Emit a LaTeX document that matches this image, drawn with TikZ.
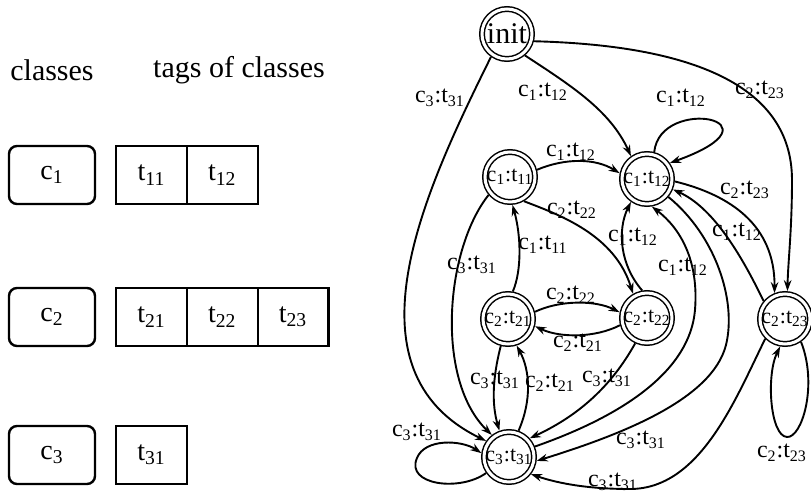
\documentclass[tikz,border=0pt]{standalone}
\usepackage{fontspec}
\setmainfont{Liberation Serif}
\usetikzlibrary{arrows.meta}
\newcommand\ct[4]{#1\textsubscript{#2}:#3\textsubscript{#4}}
\begin{document}
\begin{tikzpicture}[x=0.5pt,y=-0.5pt,
  state/.style={circle,draw,double,line width=0.75pt,double distance=1.5pt,minimum size=25pt,inner sep=0pt,outer sep=1.5pt,font=\fontsize{11}{13}\selectfont},
  edge/.style={line width=0.95pt,-{Stealth[length=5.5pt,width=3.8pt]}},
  lbl/.style={font=\fontsize{12}{14}\selectfont,inner sep=0pt},
  head/.style={font=\fontsize{15}{17}\selectfont,inner sep=0pt},
  cls/.style={draw,rounded corners=4pt,line width=1.2pt,minimum width=43pt,minimum height=29pt,inner sep=0pt,font=\fontsize{14}{16}\selectfont},
  tag/.style={draw,line width=1.2pt,minimum width=35.4pt,minimum height=29pt,inner sep=0pt,font=\fontsize{14}{16}\selectfont},
]
\useasboundingbox (0,0) rectangle (811,493);

% left part
\node[head] (hcls) at (52,70) {classes};
\node[head] (htag) at (239,70) {tags of classes};

\node[cls] (k1) at (52,175) {c\textsubscript{1}};
\node[tag] (t11) at (151.5,175) {t\textsubscript{11}};
\node[tag] (t12) at (222.3,175) {t\textsubscript{12}};

\node[cls] (k2) at (52,317) {c\textsubscript{2}};
\node[tag] (t21) at (151.5,317) {t\textsubscript{21}};
\node[tag] (t22) at (222.3,317) {t\textsubscript{22}};
\node[tag] (t23) at (293.1,317) {t\textsubscript{23}};

\node[cls] (k3) at (52,455) {c\textsubscript{3}};
\node[tag] (t31) at (151.5,455) {t\textsubscript{31}};

% states
\node[state,font=\fontsize{15}{17}\selectfont] (init) at (507,34) {init};
\node[state] (c11) at (510,177) {\ct c1t{11}};
\node[state] (c12) at (647,179) {\ct c1t{12}};
\node[state] (c21) at (508,319) {\ct c2t{21}};
\node[state] (c22) at (647,318) {\ct c2t{22}};
\node[state] (c23) at (785,319) {\ct c2t{23}};
\node[state] (c31) at (509,457) {\ct c3t{31}};

% edges from init
\draw[edge] (init.-125) .. controls (425,190) and (340,370) .. (c31.145);
\node[lbl] (l1) at (440,98) {\ct c3t{31}};
\draw[edge] (init.-50) .. controls (570,85) and (610,110) .. (c12.125);
\node[lbl] (l2) at (543,92) {\ct c1t{12}};
\draw[edge] (init.-15) .. controls (680,45) and (792,80) .. (792,180) .. controls (792,230) and (788,262) .. (c23.85);
\node[lbl] (l3) at (760,90) {\ct c2t{23}};

% c1:t12 loop
\draw[edge] (c12.75) .. controls (660,95) and (790,120) .. (c12.35);
\node[lbl] (l4) at (681,98) {\ct c1t{12}};

% c1:t11 edges
\draw[edge] (c11.15) .. controls (565,158) and (595,158) .. (c12.168);
\node[lbl] (l5) at (571,152) {\ct c1t{12}};
\draw[edge] (c11.-60) .. controls (560,215) and (615,235) .. (c22.120);
\node[lbl] (l6) at (572,210) {\ct c2t{22}};
\draw[edge] (c21.80) .. controls (522,270) and (521,235) .. (c11.-85);
\node[lbl] (l7) at (543,245) {\ct c1t{11}};
\draw[edge] (c11.-140) .. controls (445,250) and (435,380) .. (c31.128);
\node[lbl] (l8) at (472,265) {\ct c3t{31}};

% c2:t21 <-> c2:t22
\draw[edge] (c21.15) .. controls (560,300) and (595,300) .. (c22.168);
\node[lbl] (l9) at (571,295) {\ct c2t{22}};
\draw[edge] (c22.-165) .. controls (595,338) and (560,338) .. (c21.-15);
\node[lbl] (l10) at (578,343) {\ct c2t{21}};

% c2:t22 -> c1:t12
\draw[edge] (c22.100) .. controls (620,265) and (617,230) .. (c12.-125);
\node[lbl] (l11) at (633,237) {\ct c1t{12}};

% c2:t21 <-> c3:t31
\draw[edge] (c21.-105) .. controls (492,380) and (492,405) .. (c31.110);
\node[lbl] (l12) at (495,380) {\ct c3t{31}};
\draw[edge] (c31.70) .. controls (532,400) and (530,370) .. (c21.-72);
\node[lbl] (l13) at (550,383) {\ct c2t{21}};

% c2:t22 -> c3:t31
\draw[edge] (c22.-115) .. controls (612,385) and (580,415) .. (c31.42);
\node[lbl] (l14) at (607,378) {\ct c3t{31}};

% c3:t31 -> c1:t12
\draw[edge] (c31.22) .. controls (625,415) and (690,370) .. (695,310) .. controls (699,260) and (680,228) .. (c12.-80);
\node[lbl] (l15) at (683,267) {\ct c1t{12}};

% c1:t12 -> c3:t31
\draw[edge] (c12.-40) .. controls (715,235) and (737,300) .. (726,345) .. controls (712,400) and (620,435) .. (c31.-8);
\node[lbl] (l16) at (641,440) {\ct c3t{31}};

% c2:t23 -> c3:t31
\draw[edge] (c23.-135) .. controls (735,400) and (700,489) .. (630,489) .. controls (590,489) and (560,484) .. (c31.-38);
\node[lbl] (l17) at (613,482) {\ct c3t{31}};

% c1:t12 <-> c2:t23
\draw[edge] (c12.-5) .. controls (730,195) and (775,225) .. (c23.112);
\node[lbl] (l18) at (745,190) {\ct c2t{23}};
\draw[edge] (c23.140) .. controls (740,252) and (712,207) .. (c12.-22);
\node[lbl] (l19) at (737,232) {\ct c1t{12}};

% c2:t23 loop
\draw[edge] (c23.-55) .. controls (818,385) and (802,438) .. (787,437) .. controls (770,436) and (766,375) .. (c23.-100);
\node[lbl] (l20) at (782,453) {\ct c2t{23}};

% c3:t31 loop
\draw[edge] (c31.-145) .. controls (460,492) and (405,485) .. (417,458) .. controls (425,438) and (462,440) .. (c31.172);
\node[lbl] (l21) at (417,432) {\ct c3t{31}};
\end{tikzpicture}
\end{document}
